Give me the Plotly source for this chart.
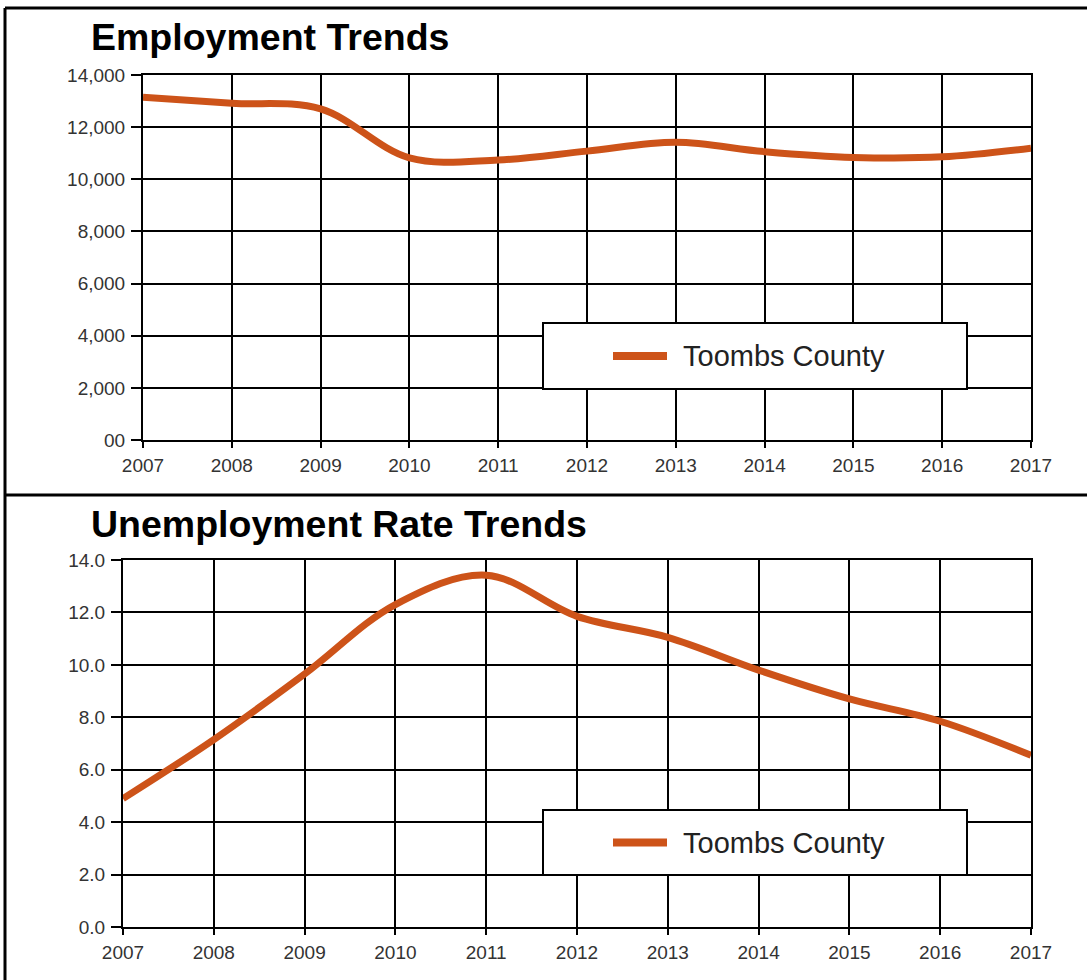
import plotly.graph_objects as go

W, H = 1087, 980

years = [2007, 2008, 2009, 2010, 2011, 2012, 2013, 2014, 2015, 2016, 2017]
employment = [13150, 12920, 12700, 10820, 10740, 11080, 11420, 11060, 10840, 10860, 11190]
unemployment = [4.9, 7.15, 9.65, 12.3, 13.42, 11.85, 11.05, 9.8, 8.7, 7.85, 6.55]

emp_ticks = [0, 2000, 4000, 6000, 8000, 10000, 12000, 14000]
emp_ticktext = ["00", "2,000", "4,000", "6,000", "8,000", "10,000", "12,000", "14,000"]
unemp_ticks = [0, 2, 4, 6, 8, 10, 12, 14]
unemp_ticktext = ["0.0", "2.0", "4.0", "6.0", "8.0", "10.0", "12.0", "14.0"]

series_name = "Toombs County"
titles = ["Employment Trends", "Unemployment Rate Trends"]

LINE_COLOR = "#CD5319"
FONT = "Liberation Sans, Arial, sans-serif"


def px_x(v):
    return v / W


def px_y(v):
    return 1 - v / H


fig = go.Figure()
fig.add_trace(go.Scatter(x=years, y=employment, mode="lines", name=series_name,
                         line=dict(color=LINE_COLOR, width=7, shape="spline", smoothing=1.0),
                         xaxis="x", yaxis="y", showlegend=False))
fig.add_trace(go.Scatter(x=years, y=unemployment, mode="lines", name=series_name,
                         line=dict(color=LINE_COLOR, width=7, shape="spline", smoothing=1.0),
                         xaxis="x2", yaxis="y2", showlegend=False))

axis_common = dict(showgrid=True, gridcolor="black", gridwidth=2,
                   showline=True, linecolor="black", linewidth=2, mirror=True,
                   ticks="outside", tickwidth=2, tickcolor="black",
                   tickfont=dict(family=FONT, size=19, color="#333333"),
                   zeroline=False, fixedrange=True, automargin=False)
xcommon = dict(ticklen=6, ticklabelstandoff=1, **axis_common)
ycommon = dict(ticklen=10, ticklabelstandoff=2, **axis_common)

fig.update_layout(
    width=W, height=H, autosize=False,
    margin=dict(l=0, r=0, t=0, b=0, pad=0),
    paper_bgcolor="white", plot_bgcolor="white",
    xaxis=dict(domain=[px_x(143), px_x(1031)], range=[2007, 2017], anchor="y",
               tickvals=years, ticktext=[str(y) for y in years], **xcommon),
    yaxis=dict(domain=[px_y(440), px_y(75)], range=[0, 14000], anchor="x",
               tickvals=emp_ticks, ticktext=emp_ticktext, **ycommon),
    xaxis2=dict(domain=[px_x(123), px_x(1031)], range=[2007, 2017], anchor="y2",
                tickvals=years, ticktext=[str(y) for y in years], **xcommon),
    yaxis2=dict(domain=[px_y(927), px_y(560)], range=[0, 14], anchor="x2",
                tickvals=unemp_ticks, ticktext=unemp_ticktext, **ycommon),
    showlegend=False,
)

shapes = []
annotations = []

# outer frame lines
for (x0, y0, x1, y1) in [(5, 8, W, 8), (5, 8, 5, H), (5, 495, W, 495)]:
    shapes.append(dict(type="line", xref="paper", yref="paper",
                       x0=px_x(x0), y0=px_y(y0), x1=px_x(x1), y1=px_y(y1),
                       line=dict(color="black", width=3)))

# titles
for title, ty in zip(titles, [37, 524]):
    annotations.append(dict(text="<b>%s</b>" % title, xref="paper", yref="paper",
                            x=px_x(89), y=px_y(ty), xanchor="left", yanchor="middle",
                            showarrow=False, font=dict(family=FONT, size=37.5, color="black")))

# legend boxes
for (bx0, by0, bx1, by1) in [(543, 323, 967, 389), (543, 810, 967, 875)]:
    shapes.append(dict(type="rect", xref="paper", yref="paper",
                       x0=px_x(bx0), y0=px_y(by1), x1=px_x(bx1), y1=px_y(by0),
                       fillcolor="white", line=dict(color="black", width=2), layer="above"))
    cy = (by0 + by1) / 2
    shapes.append(dict(type="line", xref="paper", yref="paper",
                       x0=px_x(613), y0=px_y(cy), x1=px_x(667), y1=px_y(cy),
                       line=dict(color=LINE_COLOR, width=8), layer="above"))
    annotations.append(dict(text=series_name, xref="paper", yref="paper",
                            x=px_x(681), y=px_y(cy), xanchor="left", yanchor="middle",
                            showarrow=False, font=dict(family=FONT, size=29, color="#222222")))

fig.update_layout(shapes=shapes, annotations=annotations)

post = ("document.documentElement.style.margin='0';"
        "document.documentElement.style.overflow='hidden';"
        "document.body.style.margin='0';document.body.style.padding='0';"
        "document.body.style.overflow='hidden';")

fig.write_html("out.html", post_script=post, config={"displayModeBar": False})
